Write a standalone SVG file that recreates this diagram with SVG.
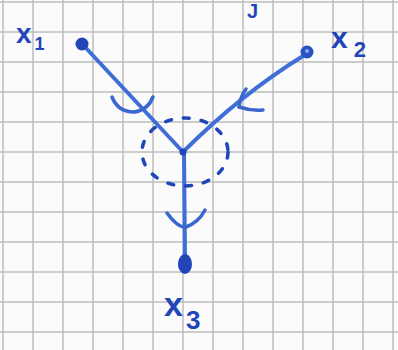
<svg xmlns="http://www.w3.org/2000/svg" width="398" height="350" viewBox="0 0 398 350">
<style>
.grid line{stroke:#bcbcbc;stroke-width:1.5}
.edge{stroke:#3f6fd6;stroke-width:4;fill:none;stroke-linecap:round;stroke-linejoin:round}
.arr{stroke:#3a66d0;stroke-width:3.5;fill:none;stroke-linecap:round}
.lbl{font-family:"Liberation Sans",Arial,sans-serif;font-weight:bold;fill:#1f45b8}
</style>
<rect width="398" height="350" fill="#fbfbfb"/>
<g class="grid">
<line x1="3" y1="0" x2="3" y2="350"/><line x1="33" y1="0" x2="33" y2="350"/><line x1="63" y1="0" x2="63" y2="350"/><line x1="93" y1="0" x2="93" y2="350"/><line x1="123" y1="0" x2="123" y2="350"/><line x1="153" y1="0" x2="153" y2="350"/><line x1="183" y1="0" x2="183" y2="350"/><line x1="213" y1="0" x2="213" y2="350"/><line x1="243" y1="0" x2="243" y2="350"/><line x1="273" y1="0" x2="273" y2="350"/><line x1="303" y1="0" x2="303" y2="350"/><line x1="333" y1="0" x2="333" y2="350"/><line x1="363" y1="0" x2="363" y2="350"/><line x1="393" y1="0" x2="393" y2="350"/>
<line x1="0" y1="2" x2="398" y2="2"/><line x1="0" y1="32" x2="398" y2="32"/><line x1="0" y1="62" x2="398" y2="62"/><line x1="0" y1="92" x2="398" y2="92"/><line x1="0" y1="122" x2="398" y2="122"/><line x1="0" y1="152" x2="398" y2="152"/><line x1="0" y1="182" x2="398" y2="182"/><line x1="0" y1="212" x2="398" y2="212"/><line x1="0" y1="242" x2="398" y2="242"/><line x1="0" y1="272" x2="398" y2="272"/><line x1="0" y1="302" x2="398" y2="302"/><line x1="0" y1="332" x2="398" y2="332"/>
</g>
<g id="connectors">
<path class="edge" d="M85,47 L183,152"/>
<path class="edge" d="M303,56 Q240,95 183,152"/>
<path class="edge" d="M184,152 L185,258"/>
<path class="arr" d="M112,97 Q118,112 134,112 Q148,110 153,97"/>
<path class="arr" d="M246,89 Q240,97 239,107 Q251,111 263,110"/>
<path class="arr" d="M167,213 Q178,228 186,227 Q199,222 205,210"/>
<ellipse cx="185" cy="152" rx="43" ry="34" fill="none" stroke="#1f45b8" stroke-width="3.5" stroke-dasharray="6 12" stroke-linecap="round"/>
<circle cx="183" cy="152" r="3.5" fill="#1f45b8"/>
</g>
<g id="x1">
<circle cx="82" cy="44" r="6.5" fill="#1f45b8"/>
<text class="lbl" x="16" y="43" font-size="28">x<tspan font-size="18" dx="3" dy="7">1</tspan></text>
</g>
<g id="x2">
<circle cx="307" cy="52" r="6.5" fill="#2a52c4"/>
<circle cx="307" cy="51" r="2" fill="#8fa8e8"/>
<text class="lbl" x="331" y="48" font-size="30">x<tspan font-size="22" dx="6" dy="9">2</tspan></text>
</g>
<g id="x3">
<ellipse cx="185" cy="264" rx="7" ry="10" fill="#1f45b8"/>
<text class="lbl" x="164" y="316" font-size="34">x<tspan font-size="26" dx="3" dy="13">3</tspan></text>
</g>
<text class="lbl" x="247" y="18" font-size="20">J</text>
</svg>
